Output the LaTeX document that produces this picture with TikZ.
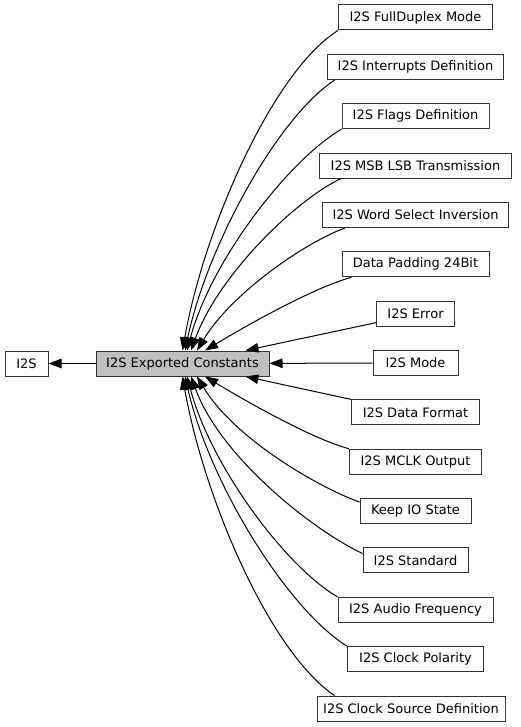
\documentclass[tikz,border=0pt]{standalone}
\usepackage{fontspec}
\setmainfont{DejaVu Sans}
\usepackage{tikz}
\usetikzlibrary{positioning}
\usetikzlibrary{arrows.meta}

\begin{document}
\begin{tikzpicture}[x=1pt, y=1pt,
  box/.style = {draw=black!80, line width=1pt, minimum height=25pt, inner sep=0pt, font=\fontsize{13}{15}\selectfont},
  cur/.style = {box, fill=black!25},
  dep/.style = {-{Triangle[length=13pt,width=9.5pt]}, line width=1pt},
  node distance=49.36pt]
\useasboundingbox (0,0) rectangle (520,-727);
\node[box, minimum width=43pt] (i2s) at (26.5,-363.5) {I2S};
\node[cur, minimum width=173pt] (exp) at (182.5,-363.5) {I2S Exported Constants};
% groups on the right
\node[box, minimum width=154pt] (fd) at (415.5,-17.5) {I2S FullDuplex Mode};
\node[box, minimum width=176pt] (irq) [below of=fd] {I2S Interrupts Definition};
\node[box, minimum width=147pt] (flg) [below of=irq] {I2S Flags Definition};
\node[box, minimum width=192pt] (msb) [below of=flg] {I2S MSB LSB Transmission};
\node[box, minimum width=186pt] (ws) [below of=msb] {I2S Word Select Inversion};
\node[box, minimum width=147pt] (pad) [below of=ws] {Data Padding 24Bit};
\node[box, minimum width=78pt] (err) [below of=pad] {I2S Error};
\node[box, minimum width=85pt] (mode) [below of=err] {I2S Mode};
\node[box, minimum width=128pt] (fmt) [below of=mode] {I2S Data Format};
\node[box, minimum width=132pt] (mclk) [below of=fmt] {I2S MCLK Output};
\node[box, minimum width=111pt] (keep) [below of=mclk] {Keep IO State};
\node[box, minimum width=105pt] (std) [below of=keep] {I2S Standard};
\node[box, minimum width=155pt] (freq) [below of=std] {I2S Audio Frequency};
\node[box, minimum width=136pt] (pol) [below of=freq] {I2S Clock Polarity};
\node[box, minimum width=188pt, xshift=-4.5pt] (src) [below of=pol] {I2S Clock Source Definition};
% edges
\path (exp) edge [dep] (i2s);
\path (fd.south west) edge [dep, out=212, in=80, out distance=77pt, in distance=124pt] (exp.north);
\path ([xshift=8pt]irq.south west) edge [dep, out=213, in=78, out distance=68pt, in distance=108pt] ([xshift=2.5pt]exp.north);
\path (flg.south west) edge [dep, out=210, in=75, out distance=59pt, in distance=95pt] ([xshift=4.5pt]exp.north);
\path ([xshift=22pt]msb.south west) edge [dep, out=205, in=70, out distance=50pt, in distance=80pt] ([xshift=8.5pt]exp.north);
\path ([xshift=23pt]ws.south west) edge [dep, out=200, in=59, out distance=42pt, in distance=67pt] ([xshift=14.5pt]exp.north);
\path ([xshift=10pt]pad.south west) edge [dep, out=195, in=31, out distance=36pt, in distance=57pt] ([xshift=22.5pt]exp.north);
\path ([yshift=-9pt]err.west) edge [dep] ([xshift=-24pt]exp.north east);
\path (mode) edge [dep] (exp);
\path (fmt.north west) edge [dep] ([xshift=-24pt]exp.south east);
\path (mclk.north west) edge [dep, out=165, in=-31, out distance=36pt, in distance=57pt] ([xshift=22.5pt]exp.south);
\path ([yshift=-4pt]keep.north west) edge [dep, out=160, in=-59, out distance=45pt, in distance=72pt] ([xshift=14.5pt]exp.south);
\path ([yshift=-6pt]std.north west) edge [dep, out=155, in=-70, out distance=54pt, in distance=86pt] ([xshift=8.5pt]exp.south);
\path (freq.north west) edge [dep, out=150, in=-75, out distance=59pt, in distance=94pt] ([xshift=4.5pt]exp.south);
\path (pol.north west) edge [dep, out=148, in=-77, out distance=70pt, in distance=111pt] ([xshift=2.5pt]exp.south);
\path ([xshift=18pt]src.north west) edge [dep, out=146, in=-80, out distance=78pt, in distance=124pt] (exp.south);
\end{tikzpicture}
\end{document}
